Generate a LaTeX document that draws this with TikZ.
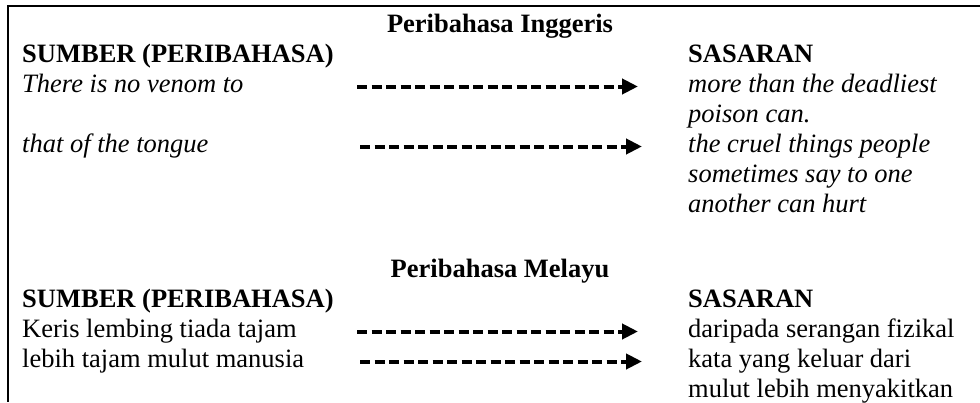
\documentclass[tikz,border=0pt]{standalone}
\usepackage{fontspec}
\setmainfont{Liberation Serif}
\usetikzlibrary{arrows.meta}

\begin{document}
\begin{tikzpicture}[x=1pt,y=-1pt,
	every node/.style={inner sep=0pt,anchor=base west,font=\fontsize{26.5}{30}\selectfont},
	title/.style={anchor=base,font=\fontsize{26.5}{30}\selectfont\bfseries},
	head/.style={font=\fontsize{26.5}{30}\selectfont\bfseries},
	eng/.style={font=\fontsize{26.5}{30}\selectfont\itshape},
	link/.style={line width=4pt,dash pattern=on 10pt off 4.5pt,-{Triangle[length=16pt,width=15pt]}}]
	
	\useasboundingbox (0,0) rectangle (980,402);
	\draw[line width=2.5pt] (980,6) -- (8,6) -- (8,402);
	
	% english
	\node[title] (t1) at (500,32) {Peribahasa Inggeris};
	\node[head] (s1) at (22,62) {SUMBER (PERIBAHASA)};
	\node[head] (g1) at (688,62) {SASARAN};
	\node[eng] (e1) at (22,92) {There is no venom to};
	\node[eng] (e2) at (22,152) {that of the tongue};
	\node[eng] (f1) at (688,92) {more than the deadliest};
	\node[eng] (f2) at (688,122) {poison can.};
	\node[eng] (f3) at (688,152) {the cruel things people};
	\node[eng] (f4) at (688,182) {sometimes say to one};
	\node[eng] (f5) at (688,212) {another can hurt};
	
	% malay
	\node[title] (t2) at (500,277) {Peribahasa Melayu};
	\node[head] (s2) at (22,307) {SUMBER (PERIBAHASA)};
	\node[head] (g2) at (688,307) {SASARAN};
	\node (m1) at (22,337) {Keris lembing tiada tajam};
	\node (m2) at (22,367) {lebih tajam mulut manusia};
	\node (n1) at (688,337) {daripada serangan fizikal};
	\node (n2) at (688,367) {kata yang keluar dari};
	\node (n3) at (688,397) {mulut lebih menyakitkan};
	
	\coordinate (a1) at (357,86.5);  \coordinate (b1) at (638,86.5);
	\coordinate (a2) at (360,146.5); \coordinate (b2) at (642,146.5);
	\coordinate (a3) at (357,331.5); \coordinate (b3) at (638,331.5);
	\coordinate (a4) at (360,361.5); \coordinate (b4) at (642,361.5);
	
	\draw[link] (a1) -- (b1);
	\draw[link] (a2) -- (b2);
	\draw[link] (a3) -- (b3);
	\draw[link] (a4) -- (b4);
\end{tikzpicture}
\end{document}
